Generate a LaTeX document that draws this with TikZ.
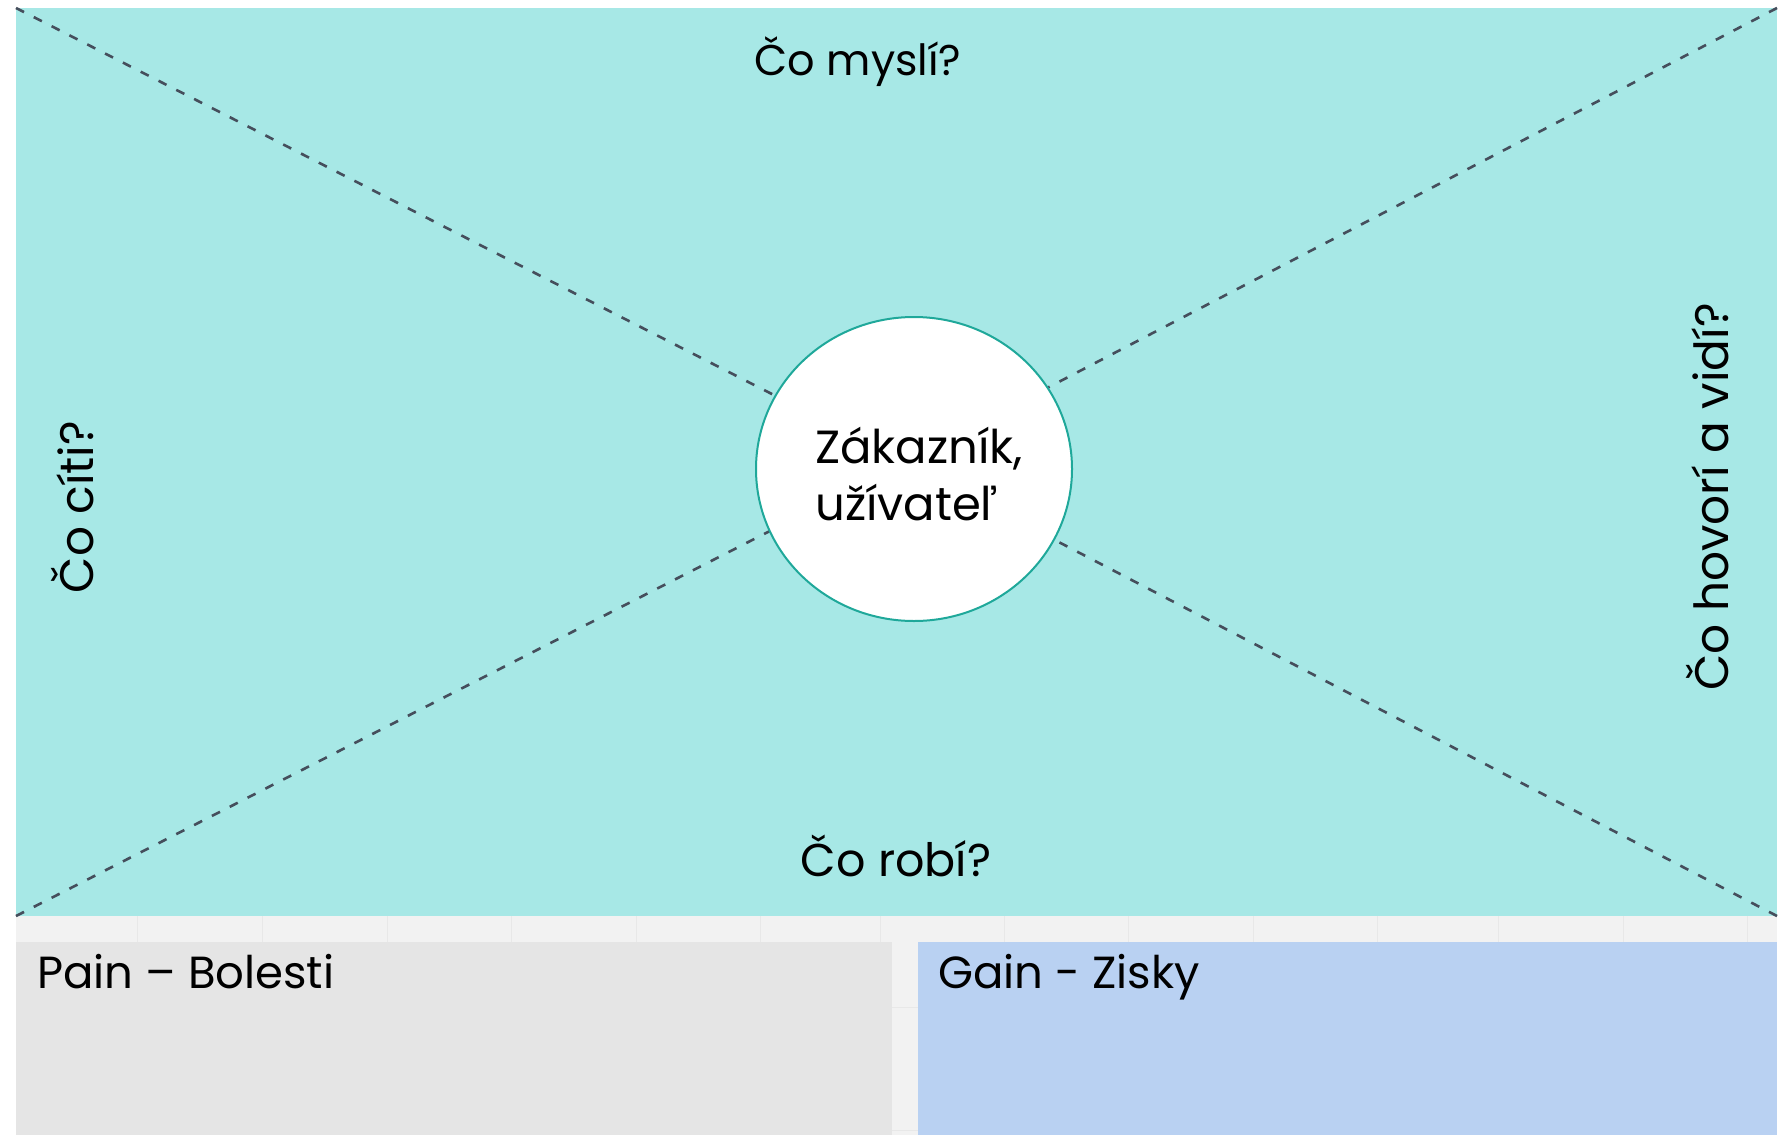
\documentclass[tikz,border=0pt]{standalone}
\usepackage{fontspec}
\setmainfont{Poppins}
\usetikzlibrary{shapes.geometric}
\definecolor{mapfill}{HTML}{A7E8E6}
\definecolor{dashc}{HTML}{454E5C}
\definecolor{ringc}{HTML}{1FA89A}
\definecolor{stripc}{HTML}{F2F2F2}
\definecolor{gridc}{HTML}{E8E8E8}
\definecolor{painc}{HTML}{E5E5E5}
\definecolor{gainc}{HTML}{B9D1F2}
\begin{document}
\begin{tikzpicture}[x=1pt,y=-1pt,
  divider/.style={draw=dashc, line width=2.6pt, dash pattern=on 9pt off 11pt},
  gridline/.style={draw=gridc, line width=1pt},
  boxtitle/.style={inner sep=0pt, anchor=base west, font=\fontsize{45}{54}\selectfont},
  quadrant/.style={inner sep=0pt, anchor=base}]
  % page
  \fill[white] (0,0) rectangle (1785,1135);
  \useasboundingbox (0,0) rectangle (1785,1135);
  % empathy map area
  \fill[mapfill] (16,8) rectangle (1777,916);
  % strip and gap behind the two boxes
  \fill[stripc] (16,916) rectangle (1777,942);
  \fill[stripc] (892,942) rectangle (918,1135);
  \foreach \gx in {137,262,387,511,636,760,880,1004,1128,1253,1377,1498,1623,1747}
    \draw[gridline] (\gx,916) -- (\gx,942);
  \draw[gridline] (892,1007) -- (918,1007);
  \draw[gridline] (892,1130) -- (918,1130);
  % bottom boxes
  \fill[painc] (16,942) rectangle (892,1135);
  \fill[gainc] (918,942) rectangle (1777,1135);
  % dividing lines
  \coordinate (tl) at (16,8);
  \coordinate (tr) at (1777,8);
  \coordinate (bl) at (16,916);
  \coordinate (br) at (1777,916);
  \coordinate (hub) at (905,462);
  \draw[divider] (tl) -- (hub);
  \draw[divider] (tr) -- (hub);
  \draw[divider] (bl) -- (hub);
  \draw[divider] (br) -- (hub);
  % customer in the middle
  \node[ellipse, draw=ringc, line width=2pt, fill=white,
        minimum width=316pt, minimum height=304pt, inner sep=0pt] (cust) at (914,469) {};
  \node[inner sep=0pt, align=left, font=\fontsize{46.5}{57}\selectfont]
        (custlabel) at ([xshift=5pt,yshift=-5pt]cust.center) {Zákazník,\\užívateľ};
  % quadrant labels
  \node[quadrant, font=\fontsize{43}{50}\selectfont] (think) at (858,75) {Čo myslí?};
  \node[quadrant, font=\fontsize{46}{54}\selectfont] (do) at (896,876) {Čo robí?};
  \node[quadrant, rotate=90, font=\fontsize{47}{56}\selectfont] (feel) at (93,507) {Čo cíti?};
  \node[quadrant, rotate=90, font=\fontsize{47}{56}\selectfont] (say) at (1728,497) {Čo hovorí a vidí?};
  % box titles
  \node[boxtitle] (pain) at (37,988) {Pain – Bolesti};
  \node[boxtitle] (gain) at (938,988) {Gain - Zisky};
\end{tikzpicture}
\end{document}
